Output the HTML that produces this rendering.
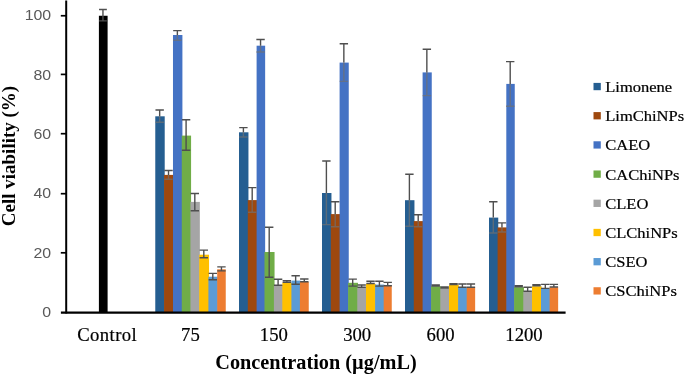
<!DOCTYPE html>
<html lang="en"><head><meta charset="utf-8"><title>Cell viability chart</title>
<style>html,body{margin:0;padding:0;background:#fff;}body{width:685px;height:375px;overflow:hidden;}svg{display:block;}.ser{font-family:"Liberation Serif",serif;}.san{font-family:"Liberation Sans",sans-serif;}</style></head><body>
<svg width="685" height="375" viewBox="0 0 685 375">
<rect x="0" y="0" width="685" height="375" fill="#ffffff"/>
<rect x="98.9" y="15.75" width="8.7" height="296.65" fill="#000000"/>
<path d="M99.05 9.55H106.85M102.95 9.55V20.90M99.05 20.90H106.85" stroke="#4f4f4f" stroke-width="1.4" fill="none"/>
<rect x="155.27" y="116.30" width="9.44" height="196.10" fill="#255E91"/>
<rect x="164.06" y="174.90" width="9.57" height="137.50" fill="#9E480E"/>
<rect x="172.98" y="35.00" width="9.43" height="277.40" fill="#4472C4"/>
<rect x="181.76" y="135.60" width="9.32" height="176.80" fill="#70AD47"/>
<rect x="190.43" y="201.90" width="9.42" height="110.50" fill="#A5A5A5"/>
<rect x="199.20" y="254.70" width="9.85" height="57.70" fill="#FFC000"/>
<rect x="208.40" y="276.70" width="9.45" height="35.70" fill="#5B9BD5"/>
<rect x="217.20" y="269.30" width="8.55" height="43.10" fill="#ED7D31"/>
<path d="M155.47 110.00H163.87M159.67 110.00V116.30" stroke="#4f4f4f" stroke-width="1.4" fill="none"/>
<path d="M159.67 116.30V122.30M155.47 122.30H163.87" stroke="#707070" stroke-opacity="0.7" stroke-width="1.4" fill="none"/>
<path d="M164.32 170.50H172.72M168.52 170.50V174.90" stroke="#4f4f4f" stroke-width="1.4" fill="none"/>
<path d="M168.52 174.90V179.30M164.32 179.30H172.72" stroke="#707070" stroke-opacity="0.7" stroke-width="1.4" fill="none"/>
<path d="M173.17 30.60H181.57M177.37 30.60V35.00" stroke="#4f4f4f" stroke-width="1.4" fill="none"/>
<path d="M177.37 35.00V40.20M173.17 40.20H181.57" stroke="#707070" stroke-opacity="0.7" stroke-width="1.4" fill="none"/>
<path d="M181.90 119.80H190.29M186.09 119.80V150.30M181.90 150.30H190.29" stroke="#4f4f4f" stroke-width="1.4" fill="none"/>
<path d="M190.62 193.50H199.01M194.81 193.50V210.70M190.62 210.70H199.01" stroke="#4f4f4f" stroke-width="1.4" fill="none"/>
<path d="M199.60 250.10H208.00M203.80 250.10V257.80M199.60 257.80H208.00" stroke="#4f4f4f" stroke-width="1.4" fill="none"/>
<path d="M208.60 273.35H217.00M212.80 273.35V279.80M208.60 279.80H217.00" stroke="#4f4f4f" stroke-width="1.4" fill="none"/>
<path d="M217.25 266.90H225.65M221.45 266.90V270.90M217.25 270.90H225.65" stroke="#4f4f4f" stroke-width="1.4" fill="none"/>
<rect x="239.00" y="132.30" width="9.45" height="180.10" fill="#255E91"/>
<rect x="247.80" y="200.10" width="9.45" height="112.30" fill="#9E480E"/>
<rect x="256.60" y="45.70" width="8.55" height="266.70" fill="#4472C4"/>
<rect x="264.50" y="252.00" width="10.05" height="60.40" fill="#70AD47"/>
<rect x="273.90" y="285.00" width="9.05" height="27.40" fill="#A5A5A5"/>
<rect x="282.30" y="282.60" width="9.75" height="29.80" fill="#FFC000"/>
<rect x="291.40" y="280.60" width="9.15" height="31.80" fill="#5B9BD5"/>
<rect x="299.90" y="282.00" width="8.85" height="30.40" fill="#ED7D31"/>
<path d="M239.20 127.60H247.60M243.40 127.60V132.30" stroke="#4f4f4f" stroke-width="1.4" fill="none"/>
<path d="M243.40 132.30V137.00M239.20 137.00H247.60" stroke="#707070" stroke-opacity="0.7" stroke-width="1.4" fill="none"/>
<path d="M248.00 187.60H256.40M252.20 187.60V200.10" stroke="#4f4f4f" stroke-width="1.4" fill="none"/>
<path d="M252.20 200.10V212.30M248.00 212.30H256.40" stroke="#707070" stroke-opacity="0.7" stroke-width="1.4" fill="none"/>
<path d="M256.35 39.50H264.75M260.55 39.50V45.70" stroke="#4f4f4f" stroke-width="1.4" fill="none"/>
<path d="M260.55 45.70V52.00M256.35 52.00H264.75" stroke="#707070" stroke-opacity="0.7" stroke-width="1.4" fill="none"/>
<path d="M265.00 227.30H273.40M269.20 227.30V277.30M265.00 277.30H273.40" stroke="#4f4f4f" stroke-width="1.4" fill="none"/>
<path d="M273.90 279.20H282.30M278.10 279.20V285.30M273.90 285.30H282.30" stroke="#4f4f4f" stroke-width="1.4" fill="none"/>
<path d="M282.65 280.60H291.05M286.85 280.60V282.20M282.65 282.20H291.05" stroke="#4f4f4f" stroke-width="1.4" fill="none"/>
<path d="M291.45 275.70H299.85M295.65 275.70V284.30M291.45 284.30H299.85" stroke="#4f4f4f" stroke-width="1.4" fill="none"/>
<path d="M300.10 279.00H308.50M304.30 279.00V281.80M300.10 281.80H308.50" stroke="#4f4f4f" stroke-width="1.4" fill="none"/>
<rect x="322.00" y="193.00" width="9.45" height="119.40" fill="#255E91"/>
<rect x="330.80" y="214.10" width="9.45" height="98.30" fill="#9E480E"/>
<rect x="339.60" y="62.60" width="9.15" height="249.80" fill="#4472C4"/>
<rect x="348.10" y="282.80" width="9.85" height="29.60" fill="#70AD47"/>
<rect x="357.30" y="287.50" width="9.35" height="24.90" fill="#A5A5A5"/>
<rect x="366.00" y="283.90" width="9.75" height="28.50" fill="#FFC000"/>
<rect x="375.10" y="284.60" width="9.25" height="27.80" fill="#5B9BD5"/>
<rect x="383.70" y="285.60" width="8.05" height="26.80" fill="#ED7D31"/>
<path d="M322.20 161.00H330.60M326.40 161.00V193.00" stroke="#4f4f4f" stroke-width="1.4" fill="none"/>
<path d="M326.40 193.00V224.60M322.20 224.60H330.60" stroke="#707070" stroke-opacity="0.7" stroke-width="1.4" fill="none"/>
<path d="M331.00 201.70H339.40M335.20 201.70V214.10" stroke="#4f4f4f" stroke-width="1.4" fill="none"/>
<path d="M335.20 214.10V226.80M331.00 226.80H339.40" stroke="#707070" stroke-opacity="0.7" stroke-width="1.4" fill="none"/>
<path d="M339.65 43.80H348.05M343.85 43.80V62.60" stroke="#4f4f4f" stroke-width="1.4" fill="none"/>
<path d="M343.85 62.60V81.40M339.65 81.40H348.05" stroke="#707070" stroke-opacity="0.7" stroke-width="1.4" fill="none"/>
<path d="M348.50 279.10H356.90M352.70 279.10V286.10M348.50 286.10H356.90" stroke="#4f4f4f" stroke-width="1.4" fill="none"/>
<path d="M357.45 285.00H365.85M361.65 285.00V287.20M357.45 287.20H365.85" stroke="#4f4f4f" stroke-width="1.4" fill="none"/>
<path d="M366.35 281.20H374.75M370.55 281.20V283.50M366.35 283.50H374.75" stroke="#4f4f4f" stroke-width="1.4" fill="none"/>
<path d="M375.20 281.30H383.60M379.40 281.30V286.10M375.20 286.10H383.60" stroke="#4f4f4f" stroke-width="1.4" fill="none"/>
<path d="M383.50 282.40H391.90M387.70 282.40V285.70M383.50 285.70H391.90" stroke="#4f4f4f" stroke-width="1.4" fill="none"/>
<rect x="405.00" y="200.20" width="9.45" height="112.20" fill="#255E91"/>
<rect x="413.80" y="221.10" width="9.45" height="91.30" fill="#9E480E"/>
<rect x="422.60" y="72.40" width="9.15" height="240.00" fill="#4472C4"/>
<rect x="431.10" y="286.30" width="9.85" height="26.10" fill="#70AD47"/>
<rect x="440.30" y="288.30" width="9.35" height="24.10" fill="#A5A5A5"/>
<rect x="449.00" y="284.80" width="9.75" height="27.60" fill="#FFC000"/>
<rect x="458.10" y="287.30" width="9.25" height="25.10" fill="#5B9BD5"/>
<rect x="466.70" y="287.30" width="8.45" height="25.10" fill="#ED7D31"/>
<path d="M405.20 174.20H413.60M409.40 174.20V200.20" stroke="#4f4f4f" stroke-width="1.4" fill="none"/>
<path d="M409.40 200.20V226.30M405.20 226.30H413.60" stroke="#707070" stroke-opacity="0.7" stroke-width="1.4" fill="none"/>
<path d="M414.00 214.80H422.40M418.20 214.80V221.10" stroke="#4f4f4f" stroke-width="1.4" fill="none"/>
<path d="M418.20 221.10V226.80M414.00 226.80H422.40" stroke="#707070" stroke-opacity="0.7" stroke-width="1.4" fill="none"/>
<path d="M422.65 49.20H431.05M426.85 49.20V72.40" stroke="#4f4f4f" stroke-width="1.4" fill="none"/>
<path d="M426.85 72.40V95.60M422.65 95.60H431.05" stroke="#707070" stroke-opacity="0.7" stroke-width="1.4" fill="none"/>
<path d="M431.50 285.00H439.90M435.70 285.00V286.00M431.50 286.00H439.90" stroke="#4f4f4f" stroke-width="1.4" fill="none"/>
<path d="M440.45 287.00H448.85M444.65 287.00V288.00M440.45 288.00H448.85" stroke="#4f4f4f" stroke-width="1.4" fill="none"/>
<path d="M449.35 283.60H457.75M453.55 283.60V284.60M449.35 284.60H457.75" stroke="#4f4f4f" stroke-width="1.4" fill="none"/>
<path d="M458.20 284.00H466.60M462.40 284.00V287.30M458.20 287.30H466.60" stroke="#4f4f4f" stroke-width="1.4" fill="none"/>
<path d="M466.70 284.00H475.10M470.90 284.00V287.30M466.70 287.30H475.10" stroke="#4f4f4f" stroke-width="1.4" fill="none"/>
<rect x="489.00" y="217.60" width="9.25" height="94.80" fill="#255E91"/>
<rect x="497.60" y="227.40" width="9.35" height="85.00" fill="#9E480E"/>
<rect x="506.30" y="83.90" width="8.45" height="228.50" fill="#4472C4"/>
<rect x="514.10" y="287.20" width="9.85" height="25.20" fill="#70AD47"/>
<rect x="523.30" y="291.80" width="9.35" height="20.60" fill="#A5A5A5"/>
<rect x="532.00" y="286.30" width="9.65" height="26.10" fill="#FFC000"/>
<rect x="541.00" y="288.50" width="9.25" height="23.90" fill="#5B9BD5"/>
<rect x="549.60" y="287.20" width="8.55" height="25.20" fill="#ED7D31"/>
<path d="M489.10 201.70H497.50M493.30 201.70V217.60" stroke="#4f4f4f" stroke-width="1.4" fill="none"/>
<path d="M493.30 217.60V233.00M489.10 233.00H497.50" stroke="#707070" stroke-opacity="0.7" stroke-width="1.4" fill="none"/>
<path d="M497.75 222.90H506.15M501.95 222.90V227.40" stroke="#4f4f4f" stroke-width="1.4" fill="none"/>
<path d="M501.95 227.40V232.00M497.75 232.00H506.15" stroke="#707070" stroke-opacity="0.7" stroke-width="1.4" fill="none"/>
<path d="M506.00 61.60H514.40M510.20 61.60V83.90" stroke="#4f4f4f" stroke-width="1.4" fill="none"/>
<path d="M510.20 83.90V106.20M506.00 106.20H514.40" stroke="#707070" stroke-opacity="0.7" stroke-width="1.4" fill="none"/>
<path d="M514.50 285.80H522.90M518.70 285.80V286.80M514.50 286.80H522.90" stroke="#4f4f4f" stroke-width="1.4" fill="none"/>
<path d="M523.45 287.30H531.85M527.65 287.30V291.30M523.45 291.30H531.85" stroke="#4f4f4f" stroke-width="1.4" fill="none"/>
<path d="M532.30 284.70H540.70M536.50 284.70V285.90M532.30 285.90H540.70" stroke="#4f4f4f" stroke-width="1.4" fill="none"/>
<path d="M541.10 284.40H549.50M545.30 284.40V288.40M541.10 288.40H549.50" stroke="#4f4f4f" stroke-width="1.4" fill="none"/>
<path d="M549.65 284.40H558.05M553.85 284.40V287.00M549.65 287.00H558.05" stroke="#4f4f4f" stroke-width="1.4" fill="none"/>
<path d="M66.2 0.5V313.59999999999997" stroke="#000" stroke-width="2" fill="none"/>
<path d="M60.9 312.59999999999997H565.6" stroke="#000" stroke-width="2.2" fill="none"/>
<path d="M60.8 15.75H66.2" stroke="#000" stroke-width="1.7" fill="none"/>
<path d="M60.8 74.40H66.2" stroke="#000" stroke-width="1.7" fill="none"/>
<path d="M60.8 133.70H66.2" stroke="#000" stroke-width="1.7" fill="none"/>
<path d="M60.8 193.70H66.2" stroke="#000" stroke-width="1.7" fill="none"/>
<path d="M60.8 252.80H66.2" stroke="#000" stroke-width="1.7" fill="none"/>
<text class="san" transform="translate(51.20 20.15) scale(1.06 1)" font-size="15" fill="#595959" text-anchor="end">100</text>
<text class="san" transform="translate(51.20 79.90) scale(1.06 1)" font-size="15" fill="#595959" text-anchor="end">80</text>
<text class="san" transform="translate(51.20 138.85) scale(1.06 1)" font-size="15" fill="#595959" text-anchor="end">60</text>
<text class="san" transform="translate(51.20 198.10) scale(1.06 1)" font-size="15" fill="#595959" text-anchor="end">40</text>
<text class="san" transform="translate(51.20 258.30) scale(1.06 1)" font-size="15" fill="#595959" text-anchor="end">20</text>
<text class="san" transform="translate(51.20 317.05) scale(1.06 1)" font-size="15" fill="#595959" text-anchor="end">0</text>
<text class="ser" transform="translate(107.20 340.80)" font-size="18.7" fill="#000" text-anchor="middle" letter-spacing="0.42" stroke="#000" stroke-width="0.2">Control</text>
<text class="ser" transform="translate(190.40 340.80)" font-size="18.7" fill="#000" text-anchor="middle" stroke="#000" stroke-width="0.2">75</text>
<text class="ser" transform="translate(273.80 340.80)" font-size="18.7" fill="#000" text-anchor="middle" stroke="#000" stroke-width="0.2">150</text>
<text class="ser" transform="translate(357.20 340.80)" font-size="18.7" fill="#000" text-anchor="middle" stroke="#000" stroke-width="0.2">300</text>
<text class="ser" transform="translate(440.60 340.80)" font-size="18.7" fill="#000" text-anchor="middle" stroke="#000" stroke-width="0.2">600</text>
<text class="ser" transform="translate(524.00 340.80)" font-size="18.7" fill="#000" text-anchor="middle" stroke="#000" stroke-width="0.2">1200</text>
<text class="ser" transform="translate(316.00 368.90) scale(1.02 1)" font-size="19.9" fill="#000" text-anchor="middle" font-weight="bold">Concentration (µg/mL)</text>
<text class="ser" transform="translate(15.00 156.00) rotate(-90)" font-size="19.0" fill="#000" text-anchor="middle" font-weight="bold">Cell viability (%)</text>
<rect x="593.5" y="82.90" width="7.3" height="7.3" fill="#255E91"/>
<text class="ser" transform="translate(605.20 92.00) scale(1.125 1)" font-size="14.7" fill="#000" text-anchor="start" stroke="#000" stroke-width="0.2">Limonene</text>
<rect x="593.5" y="112.09" width="7.3" height="7.3" fill="#9E480E"/>
<text class="ser" transform="translate(605.20 121.19) scale(1.125 1)" font-size="14.7" fill="#000" text-anchor="start" stroke="#000" stroke-width="0.2">LimChiNPs</text>
<rect x="593.5" y="141.28" width="7.3" height="7.3" fill="#4472C4"/>
<text class="ser" transform="translate(605.20 150.38) scale(1.125 1)" font-size="14.7" fill="#000" text-anchor="start" stroke="#000" stroke-width="0.2">CAEO</text>
<rect x="593.5" y="170.47" width="7.3" height="7.3" fill="#70AD47"/>
<text class="ser" transform="translate(605.20 179.57) scale(1.125 1)" font-size="14.7" fill="#000" text-anchor="start" stroke="#000" stroke-width="0.2">CAChiNPs</text>
<rect x="593.5" y="199.66" width="7.3" height="7.3" fill="#A5A5A5"/>
<text class="ser" transform="translate(605.20 208.76) scale(1.125 1)" font-size="14.7" fill="#000" text-anchor="start" stroke="#000" stroke-width="0.2">CLEO</text>
<rect x="593.5" y="228.85" width="7.3" height="7.3" fill="#FFC000"/>
<text class="ser" transform="translate(605.20 237.95) scale(1.125 1)" font-size="14.7" fill="#000" text-anchor="start" stroke="#000" stroke-width="0.2">CLChiNPs</text>
<rect x="593.5" y="258.04" width="7.3" height="7.3" fill="#5B9BD5"/>
<text class="ser" transform="translate(605.20 267.14) scale(1.125 1)" font-size="14.7" fill="#000" text-anchor="start" stroke="#000" stroke-width="0.2">CSEO</text>
<rect x="593.5" y="287.23" width="7.3" height="7.3" fill="#ED7D31"/>
<text class="ser" transform="translate(605.20 296.33) scale(1.125 1)" font-size="14.7" fill="#000" text-anchor="start" stroke="#000" stroke-width="0.2">CSChiNPs</text>
</svg></body></html>
